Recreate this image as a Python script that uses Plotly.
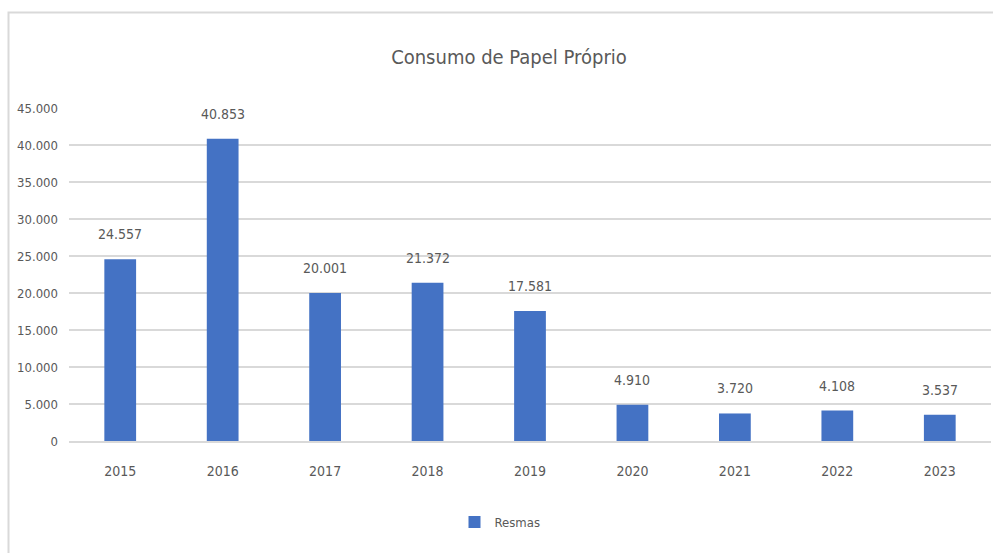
import plotly.graph_objects as go

years = ["2015", "2016", "2017", "2018", "2019", "2020", "2021", "2022", "2023"]
resmas = [24557, 40853, 20001, 21372, 17581, 4910, 3720, 4108, 3537]
labels = ["24.557", "40.853", "20.001", "21.372", "17.581", "4.910", "3.720", "4.108", "3.537"]
ytick_vals = [0, 5000, 10000, 15000, 20000, 25000, 30000, 35000, 40000, 45000]
ytick_text = ["0", "5.000", "10.000", "15.000", "20.000", "25.000", "30.000", "35.000", "40.000", "45.000"]

FONT = "Liberation Sans Narrow, DejaVu Sans Condensed, Arial Narrow, sans-serif"
GRAY = "#595959"

W, H = 993, 553
L, R, T, B = 69, 2, 108, 112
pw, ph = W - L - R, H - T - B

fig = go.Figure()
fig.add_trace(go.Bar(
    x=years, y=resmas, name="Resmas",
    marker=dict(color="#4472c4", line=dict(width=0)),
    width=0.31,
))

# value labels above bars (category axis positions by index)
for i, (v, t) in enumerate(zip(resmas, labels)):
    fig.add_annotation(x=i, y=v, text=t, showarrow=False, yanchor="middle", yshift=25,
                       font=dict(size=14, color=GRAY, family=FONT))

def px_x(p):
    return (p - L) / pw

def px_y(p):
    return 1 - (p - T) / ph

fig.add_shape(type="rect", xref="paper", yref="paper",
              x0=px_x(8.5), x1=px_x(1000), y0=px_y(12.5), y1=px_y(600),
              line=dict(color="#d9d9d9", width=2), layer="below")

fig.update_layout(
    width=W, height=H,
    margin=dict(l=L, r=R, t=T, b=B),
    paper_bgcolor="white", plot_bgcolor="white",
    font=dict(family=FONT, color=GRAY, size=13),
    title=dict(text="Consumo de Papel Próprio", x=509 / W, xanchor="center",
               y=1 - 57 / H, yanchor="middle", font=dict(size=20, color=GRAY, family=FONT)),
    showlegend=True,
    legend=dict(orientation="h", x=px_x(500), xanchor="center", y=px_y(522), yanchor="middle",
                font=dict(size=13, color=GRAY, family=FONT), itemwidth=30),
    yaxis=dict(range=[0, 45000], tickvals=ytick_vals, ticktext=ytick_text,
               showgrid=True, gridcolor="#d9d9d9", gridwidth=1.5, zeroline=False,
               showline=False, ticks="", tickfont=dict(size=13, color=GRAY), ticklabelstandoff=10),
    xaxis=dict(type="category", range=[-0.5, len(years) - 0.5], showgrid=False, showline=True,
               linecolor="#d9d9d9", linewidth=1.5,
               ticks="", tickfont=dict(size=14, color=GRAY), ticklabelstandoff=16),
)

fig.write_html("out.html")
